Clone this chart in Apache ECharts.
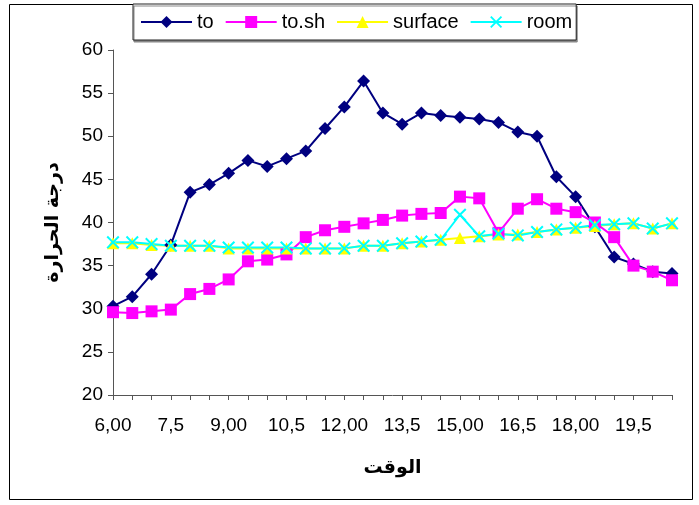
<!DOCTYPE html>
<html>
<head>
<meta charset="utf-8">
<script src="https://cdn.jsdelivr.net/npm/echarts@6/dist/echarts.min.js"></script>
<style>
  html, body { margin: 0; padding: 0; background: #fff; }
  #chart { width: 699px; height: 505px; }
</style>
</head>
<body>
<div id="chart"></div>
<script>
// half-hour readings from 6,00 to 20,5
const hours = [6, 6.5, 7, 7.5, 8, 8.5, 9, 9.5, 10, 10.5, 11, 11.5, 12, 12.5, 13, 13.5,
  14, 14.5, 15, 15.5, 16, 16.5, 17, 17.5, 18, 18.5, 19, 19.5, 20, 20.5]
const times = hours.map(h => h % 1 === 0 ? h + ',00' : Math.floor(h) + ',5')

const to = [30.3, 31.4, 34.0, 37.4, 43.5, 44.4, 45.7, 47.2, 46.5, 47.4, 48.3, 50.9, 53.4, 56.4, 52.7,
  51.4, 52.7, 52.4, 52.2, 52.0, 51.6, 50.5, 50.0, 45.3, 43.0, 39.5, 36.0, 35.2, 34.3, 34.1]
const toSh = [29.6, 29.5, 29.7, 29.9, 31.7, 32.3, 33.4, 35.5, 35.7, 36.3, 38.3, 39.1, 39.5, 39.9, 40.3,
  40.8, 41.0, 41.1, 43.0, 42.8, 38.8, 41.6, 42.7, 41.6, 41.2, 40.0, 38.3, 35.0, 34.3, 33.3]
const surface = [37.6, 37.6, 37.4, 37.3, 37.3, 37.3, 37.0, 37.0, 37.0, 37.0, 37.0, 37.0, 37.0, 37.3, 37.3,
  37.6, 37.8, 38.0, 38.2, 38.4, 38.6, 38.6, 38.9, 39.2, 39.4, 39.6, 39.8, 39.9, 39.3, 39.9]
const room = [37.7, 37.7, 37.5, 37.3, 37.3, 37.3, 37.1, 37.1, 37.1, 37.1, 37.0, 37.0, 37.0, 37.3, 37.3,
  37.6, 37.8, 38.0, 40.9, 38.4, 38.7, 38.5, 38.9, 39.2, 39.4, 39.7, 39.8, 39.9, 39.3, 39.9]

const yTicks = { min: 20, max: 60, step: 5 }

const font = 'Liberation Sans, Arial, sans-serif'
const crossSymbol = 'path://M0,1.1L1.1,0L5,3.9L8.9,0L10,1.1L6.1,5L10,8.9L8.9,10L5,6.1L1.1,10L0,8.9L3.9,5Z'

const myChart = echarts.init(document.getElementById('chart'))

const lineSeries = (name, data, color, symbol, size) => ({
  name,
  type: 'line',
  data,
  symbol,
  symbolSize: size,
  showAllSymbol: true,
  animation: false,
  lineStyle: { color, width: 2 },
  itemStyle: { color, borderWidth: 0 }
})

myChart.setOption({
  backgroundColor: '#fff',
  textStyle: { fontFamily: font },
  graphic: [{
    type: 'rect',
    shape: { x: 9.5, y: 4.5, width: 683, height: 495 },
    style: { fill: 'none', stroke: '#000', lineWidth: 1 },
    z: -1
  }],
  legend: {
    left: 133,
    top: 4,
    itemWidth: 51,
    itemHeight: 15,
    itemGap: 11,
    padding: [8, 4, 8, 7],
    backgroundColor: '#fff',
    borderColor: '#222',
    borderWidth: 1,
    shadowColor: '#888',
    shadowOffsetX: 1,
    shadowOffsetY: 2,
    textStyle: { fontSize: 20, color: '#000', fontFamily: font },
    data: ['to', 'to.sh', 'surface', 'room']
  },
  grid: { left: 113, top: 50, width: 559, height: 345 },
  xAxis: {
    type: 'category',
    data: times,
    boundaryGap: false,
    name: 'الوقت',
    nameLocation: 'middle',
    nameGap: 64,
    nameTextStyle: { fontSize: 19, fontWeight: 'bold', color: '#000', fontFamily: 'DejaVu Sans' },
    axisLine: { lineStyle: { color: '#555', width: 1 } },
    axisTick: { show: true, interval: 0, length: 5, lineStyle: { color: '#555' } },
    axisLabel: { interval: 2, fontSize: 19, color: '#000', margin: 21 }
  },
  yAxis: {
    type: 'value',
    min: yTicks.min,
    max: yTicks.max,
    interval: yTicks.step,
    name: 'درجة الحرارة',
    nameLocation: 'middle',
    nameGap: 50,
    nameTextStyle: { fontSize: 19, fontWeight: 'bold', color: '#000', fontFamily: 'DejaVu Sans' },
    splitLine: { show: false },
    axisLine: { show: true, lineStyle: { color: '#555', width: 1 } },
    axisTick: { show: true, length: 5, lineStyle: { color: '#555' } },
    axisLabel: { fontSize: 19, color: '#000', margin: 10 }
  },
  series: [
    lineSeries('to', to, '#000080', 'diamond', 13),
    lineSeries('to.sh', toSh, '#ff00ff', 'rect', 12),
    lineSeries('surface', surface, '#ffff00', 'triangle', 12),
    lineSeries('room', room, '#00ffff', crossSymbol, 13)
  ]
})
</script>
</body>
</html>
